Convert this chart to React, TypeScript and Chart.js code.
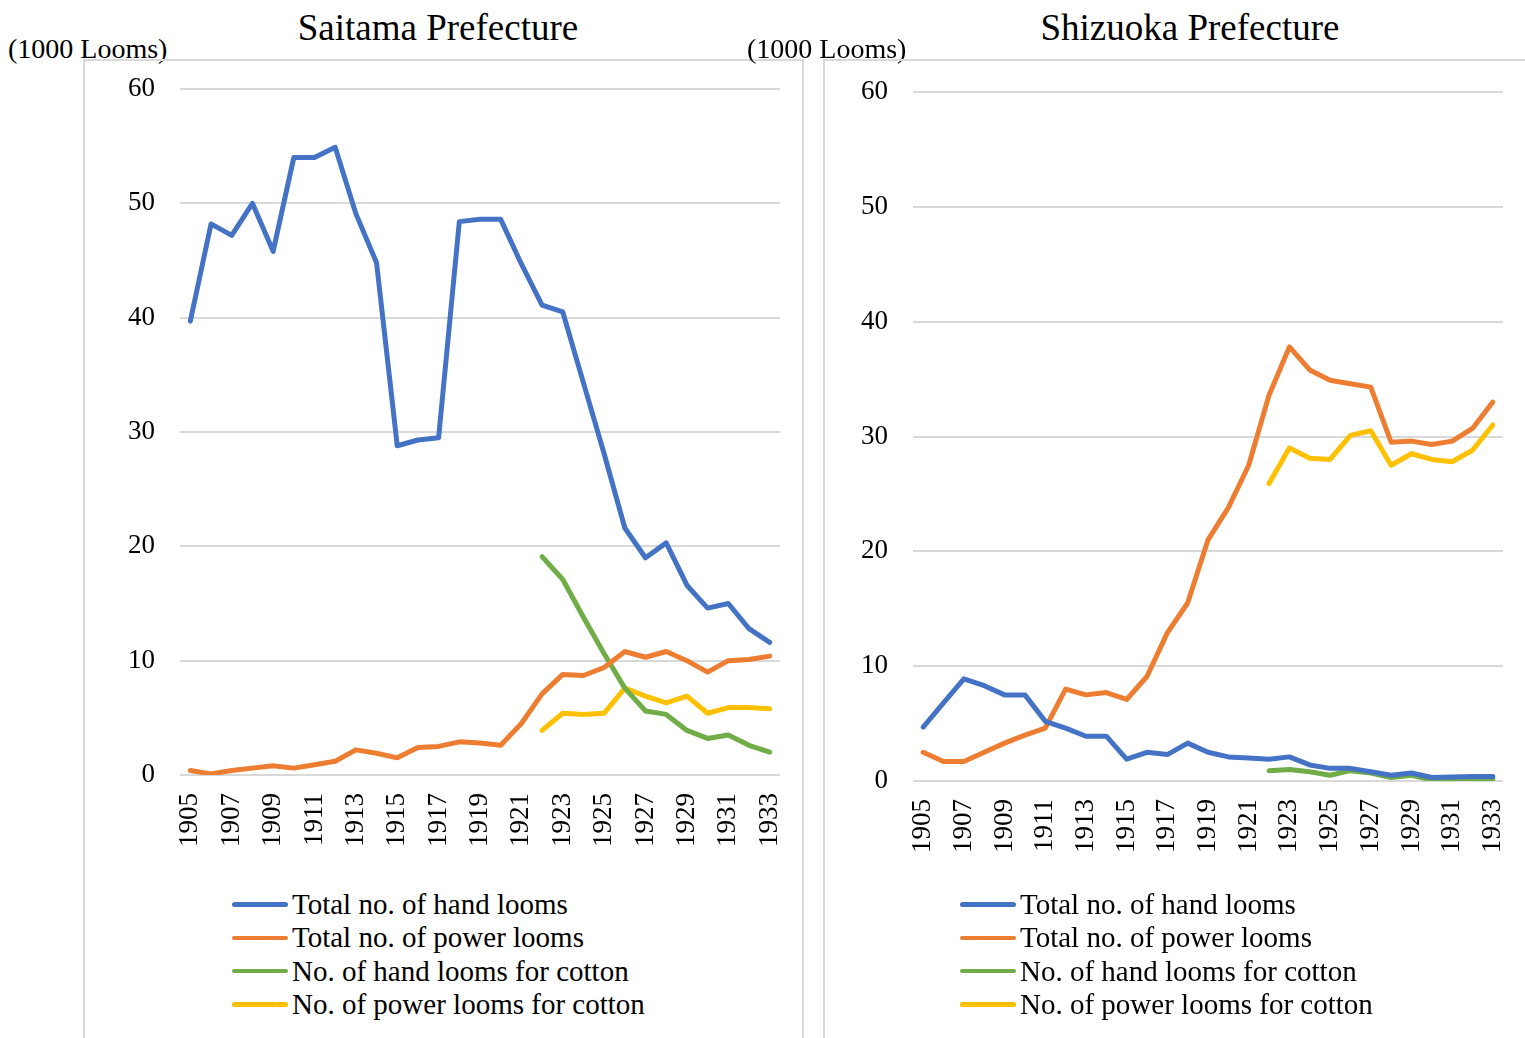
import React, { useEffect, useRef } from 'react';
import { Chart, registerables } from 'chart.js';

Chart.register(...registerables);

const years = [
  '1905', '1906', '1907', '1908', '1909', '1910', '1911', '1912', '1913', '1914',
  '1915', '1916', '1917', '1918', '1919', '1920', '1921', '1922', '1923', '1924',
  '1925', '1926', '1927', '1928', '1929', '1930', '1931', '1932', '1933',
];

const seriesNames = [
  'Total no. of hand looms',
  'Total no. of power looms',
  'No. of hand looms for cotton',
  'No. of power looms for cotton',
];

const seriesColors = ['#4472C4', '#ED7D31', '#70AD47', '#FFC000'];

const yTicks = [0, 10, 20, 30, 40, 50, 60];

// Saitama Prefecture (1000 looms)
const saitamaHand = [
  39.7, 48.2, 47.2, 50.0, 45.8, 54.0, 54.0, 54.9, 49.1, 44.8,
  28.8, 29.3, 29.5, 48.4, 48.6, 48.6, 44.7, 41.1, 40.5, 34.3,
  28.1, 21.6, 19.0, 20.3, 16.6, 14.6, 15.0, 12.8, 11.6,
];
const saitamaPower = [
  0.4, 0.1, 0.4, 0.6, 0.8, 0.6, 0.9, 1.2, 2.2, 1.9,
  1.5, 2.4, 2.5, 2.9, 2.8, 2.6, 4.5, 7.1, 8.8, 8.7,
  9.4, 10.8, 10.3, 10.8, 10.0, 9.0, 10.0, 10.1, 10.4,
];
const saitamaHandCotton = [
  null, null, null, null, null, null, null, null, null, null,
  null, null, null, null, null, null, null, 19.1, 17.1, 13.8,
  10.6, 7.6, 5.6, 5.3, 3.9, 3.2, 3.5, 2.6, 2.0,
];
const saitamaPowerCotton = [
  null, null, null, null, null, null, null, null, null, null,
  null, null, null, null, null, null, null, 3.9, 5.4, 5.3,
  5.4, 7.6, 6.9, 6.3, 6.9, 5.4, 5.9, 5.9, 5.8,
];

// Shizuoka Prefecture (1000 looms)
const shizuokaHand = [
  4.7, 6.8, 8.9, 8.3, 7.5, 7.5, 5.2, 4.6, 3.9, 3.9,
  1.9, 2.5, 2.3, 3.3, 2.5, 2.1, 2.0, 1.9, 2.1, 1.4,
  1.1, 1.1, 0.8, 0.5, 0.7, 0.3, 0.35, 0.4, 0.4,
];
const shizuokaPower = [
  2.5, 1.7, 1.7, 2.5, 3.3, 4.0, 4.6, 8.0, 7.5, 7.7,
  7.1, 9.1, 12.9, 15.5, 21.0, 23.8, 27.5, 33.6, 37.8, 35.8,
  34.9, 34.6, 34.3, 29.5, 29.6, 29.3, 29.6, 30.7, 33.0,
];
const shizuokaHandCotton = [
  null, null, null, null, null, null, null, null, null, null,
  null, null, null, null, null, null, null, 0.9, 1.0, 0.8,
  0.5, 0.9, 0.7, 0.3, 0.5, 0.1, 0.15, 0.2, 0.2,
];
const shizuokaPowerCotton = [
  null, null, null, null, null, null, null, null, null, null,
  null, null, null, null, null, null, null, 25.9, 29.0, 28.1,
  28.0, 30.1, 30.5, 27.5, 28.5, 28.0, 27.8, 28.8, 31.0,
];

const FONT = '"Liberation Serif", "Times New Roman", serif';

type PanelProps = {
  title: string;
  series: (number | null)[][];
  frameLeft: number;
  frameWidth: number;
  canvasWidth: number;
  areaLeft: number;
  areaRight: number;
  areaTop: number;
  areaBottom: number;
  titleCenter: number;
  unitLeft: number;
  legendLeft: number;
};

const CANVAS_TOP = 60;
const CANVAS_H = 800;

function Panel(p: PanelProps) {
  const ref = useRef<HTMLCanvasElement | null>(null);

  useEffect(() => {
    if (!ref.current) return;
    const chart = new Chart(ref.current, {
      type: 'line',
      data: {
        labels: years,
        datasets: p.series.map((d, i) => ({
          label: seriesNames[i],
          data: d,
          borderColor: seriesColors[i],
          backgroundColor: seriesColors[i],
          borderWidth: 5,
          pointRadius: 0,
          pointHoverRadius: 0,
          tension: 0,
          spanGaps: false,
          borderCapStyle: 'round',
          borderJoinStyle: 'round',
          fill: false,
        })),
      },
      options: {
        responsive: false,
        animation: false,
        devicePixelRatio: 1,
        layout: {
          padding: { left: 0, right: p.canvasWidth - p.areaRight, top: p.areaTop, bottom: 0 },
        },
        plugins: {
          legend: { display: false },
          title: { display: false },
          tooltip: { enabled: false },
        },
        scales: {
          x: {
            type: 'category',
            offset: true,
            grid: { display: false, drawTicks: false },
            border: { display: false },
            ticks: {
              autoSkip: false,
              minRotation: 90,
              maxRotation: 90,
              padding: 18,
              color: '#000',
              font: { family: FONT, size: 27 },
              callback: function (this: any, value: any, index: number) {
                return index % 2 === 0 ? this.getLabelForValue(value) : '';
              },
            },
            afterFit: (scale: any) => {
              scale.height = CANVAS_H - p.areaBottom;
              scale.paddingLeft = 0;
              scale.paddingRight = 0;
            },
          },
          y: {
            min: 0,
            max: 60,
            afterBuildTicks: (scale: any) => {
              scale.ticks = yTicks.map((v) => ({ value: v }));
            },
            grid: { color: '#d9d9d9', lineWidth: 2, drawTicks: false },
            border: { display: false },
            ticks: {
              padding: 25,
              color: '#000',
              font: { family: FONT, size: 27 },
            },
            afterFit: (scale: any) => {
              scale.width = p.areaLeft;
              scale.paddingTop = 0;
              scale.paddingBottom = 0;
            },
          },
        },
      },
    });
    return () => chart.destroy();
  }, []);

  return (
    <>
      <div
        style={{
          position: 'absolute',
          left: p.titleCenter - 300,
          width: 600,
          top: 9,
          textAlign: 'center',
          fontFamily: FONT,
          fontSize: 37,
          lineHeight: '37px',
          color: '#000',
          whiteSpace: 'nowrap',
        }}
      >
        {p.title}
      </div>
      <div
        style={{
          position: 'absolute',
          left: p.unitLeft,
          top: 35,
          fontFamily: FONT,
          fontSize: 28,
          lineHeight: '28px',
          color: '#000',
          whiteSpace: 'nowrap',
        }}
      >
        (1000 Looms)
      </div>
      <div
        style={{
          position: 'absolute',
          left: p.frameLeft,
          top: 59,
          width: p.frameWidth,
          height: 1100,
          border: '2px solid #d9d9d9',
          boxSizing: 'border-box',
        }}
      />
      <canvas
        ref={ref}
        width={p.canvasWidth}
        height={CANVAS_H}
        style={{
          position: 'absolute',
          left: p.frameLeft,
          top: CANVAS_TOP,
          width: p.canvasWidth,
          height: CANVAS_H,
        }}
      />
      <div style={{ position: 'absolute', left: p.legendLeft, top: 888 }}>
        {seriesNames.map((n, i) => (
          <div
            key={n}
            style={{ display: 'flex', alignItems: 'center', height: 33.3 }}
          >
            <div
              style={{
                width: 56,
                height: 4.5,
                borderRadius: 3,
                background: seriesColors[i],
                marginRight: 4,
              }}
            />
            <span
              style={{
                fontFamily: FONT,
                fontSize: 29,
                lineHeight: '33px',
                color: '#000',
                whiteSpace: 'nowrap',
              }}
            >
              {n}
            </span>
          </div>
        ))}
      </div>
    </>
  );
}

export default function App() {
  return (
    <div
      style={{
        position: 'absolute',
        left: 0,
        top: 0,
        width: 1525,
        height: 1038,
        overflow: 'hidden',
        background: '#fff',
      }}
    >
      <Panel
        title="Saitama Prefecture"
        series={[saitamaHand, saitamaPower, saitamaHandCotton, saitamaPowerCotton]}
        frameLeft={83}
        frameWidth={721}
        canvasWidth={720}
        areaLeft={97}
        areaRight={697}
        areaTop={29}
        areaBottom={715}
        titleCenter={438}
        unitLeft={8}
        legendLeft={232}
      />
      <Panel
        title="Shizuoka Prefecture"
        series={[shizuokaHand, shizuokaPower, shizuokaHandCotton, shizuokaPowerCotton]}
        frameLeft={823}
        frameWidth={760}
        canvasWidth={702}
        areaLeft={90}
        areaRight={680}
        areaTop={32}
        areaBottom={721}
        titleCenter={1190}
        unitLeft={747}
        legendLeft={960}
      />
    </div>
  );
}
